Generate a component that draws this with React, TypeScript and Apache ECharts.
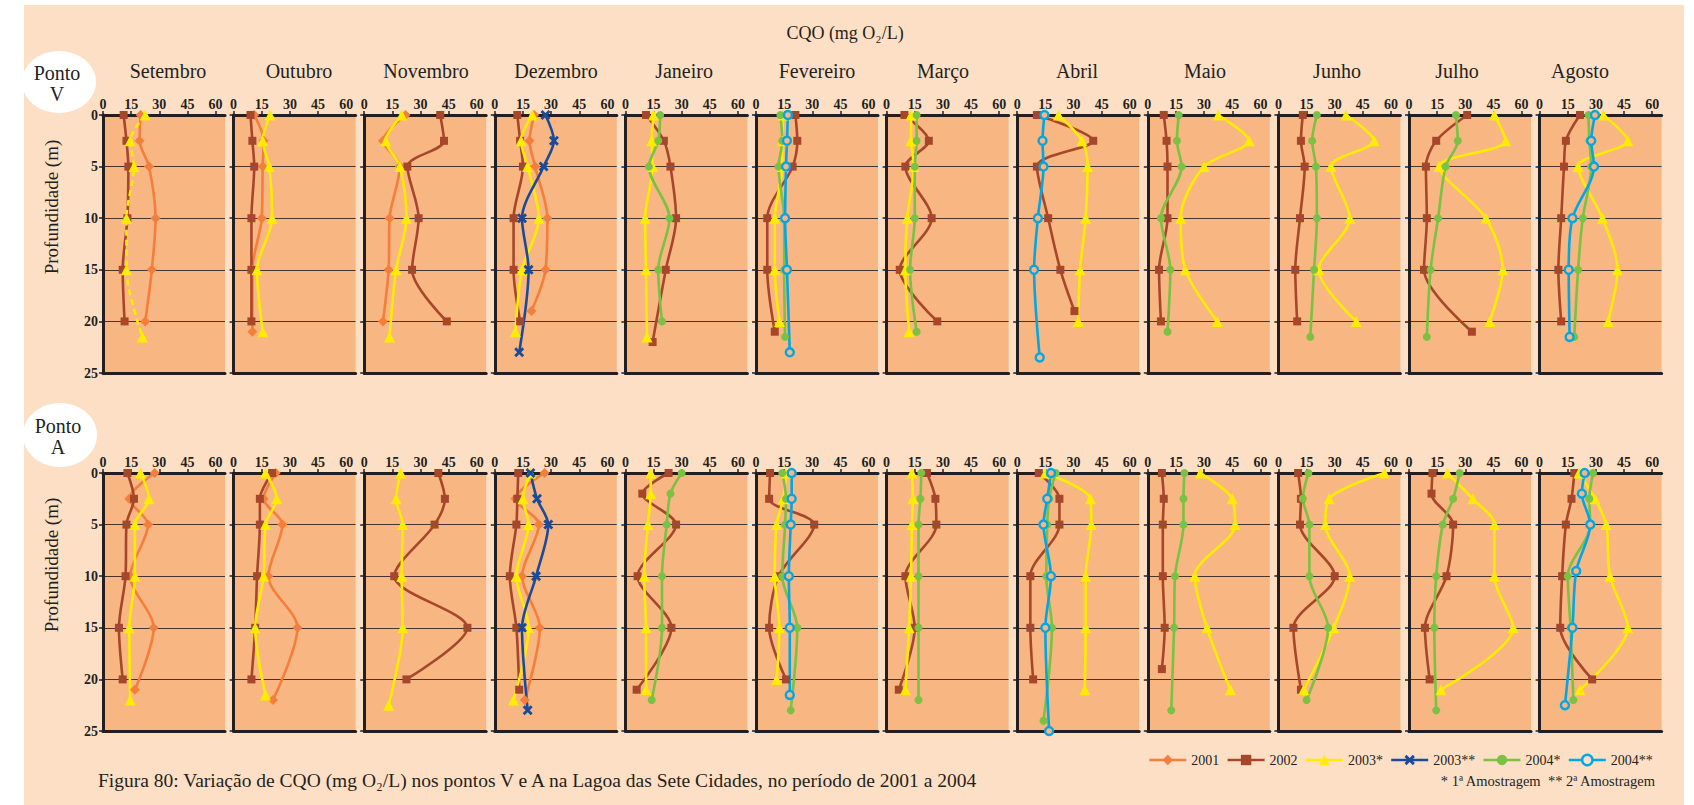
import React, { useEffect, useRef } from 'react';
import * as echarts from 'echarts';

type Pts = number[][]; // [CQO (mg O2/L), depth (m)]
type Panel = Record<string, Pts>;

const months = ['Setembro', 'Outubro', 'Novembro', 'Dezembro', 'Janeiro', 'Fevereiro', 'Março', 'Abril', 'Maio', 'Junho', 'Julho', 'Agosto'];
const yearKeys = ['2001', '2002', '2003*', '2003**', '2004*', '2004**'];
const xTicks = [0, 15, 30, 45, 60];
const pointNames = ['Ponto\nV', 'Ponto\nA'];

// ---------- Ponto V ----------
const V_SET: Panel = {
  '2001': [[20, 0], [19.5, 2.5], [24.5, 5], [28, 10], [26, 15], [22.5, 20]],
  '2002': [[11, 0], [12.5, 2.5], [13.5, 5], [13, 10], [10.5, 15], [11.5, 20]],
  '2003*': [[22.5, 0], [14.5, 2.5], [16.5, 5], [12.5, 10], [12.5, 15], [21, 21.5]],
};
const V_OUT: Panel = {
  '2001': [[11, 0], [16, 2.5], [15.5, 5], [15, 10], [10, 15], [10, 21]],
  '2002': [[9, 0], [10, 2.5], [11, 5], [9.5, 10], [9.5, 15], [9.5, 20]],
  '2003*': [[19.5, 0], [15.5, 2.5], [19, 5], [20.5, 10], [12.5, 15], [15.5, 21]],
};
const V_NOV: Panel = {
  '2001': [[22, 0], [10, 2.5], [19, 5], [13.5, 10], [13, 15], [10, 20]],
  '2002': [[40.5, 0], [42.5, 2.5], [23, 5], [29, 10], [25.5, 15], [44, 20]],
  '2003*': [[20, 0], [11.5, 2.5], [19, 5], [22.5, 10], [17, 15], [13.5, 21.5]],
};
const V_DEZ: Panel = {
  '2001': [[21, 0], [18.5, 2.5], [21.5, 5], [28, 10], [27, 15], [19.5, 19]],
  '2002': [[12, 0], [13.5, 2.5], [15, 5], [10, 10], [10, 15], [13.5, 20]],
  '2003*': [[20, 0], [14, 2.5], [17.5, 5], [23.5, 10], [14.5, 15], [11, 21]],
  '2003**': [[27, 0], [31.5, 2.5], [26, 5], [14.5, 10], [18, 15], [13, 23]],
};
const V_JAN: Panel = {
  '2002': [[11, 0], [20.5, 2.5], [24, 5], [27, 10], [21.5, 15], [14.5, 22]],
  '2003*': [[15, 0], [14, 2.5], [14.5, 5], [10.5, 10], [11, 15], [11.5, 21.5]],
  '2004*': [[18.5, 0], [17.5, 2.5], [12.5, 5], [23.5, 10], [17.5, 15], [19.5, 20]],
};
const V_FEV: Panel = {
  '2002': [[21, 0], [22, 2.5], [19.5, 5], [6, 10], [6, 15], [10, 21]],
  '2003*': [[14.5, 0], [14, 2.5], [14, 5], [10, 10], [10, 15], [12.5, 20]],
  '2004*': [[13, 0], [14, 2.5], [12, 5], [15, 10], [15, 15], [15.5, 21.5]],
  '2004**': [[17, 0], [16.5, 2.5], [16, 5], [15.5, 10], [16.5, 15], [18, 23]],
};
const V_MAR: Panel = {
  '2002': [[9.5, 0], [22.5, 2.5], [10, 5], [24, 10], [7, 15], [27, 20]],
  '2003*': [[13, 0], [13, 2.5], [14.5, 5], [11, 10], [10, 15], [12, 21]],
  '2004*': [[16, 0], [16, 2.5], [15, 5], [15, 10], [12.5, 15], [16, 21]],
};
const V_ABR: Panel = {
  '2002': [[10.5, 0], [40.5, 2.5], [10.5, 5], [16.5, 10], [23, 15], [30.5, 19]],
  '2003*': [[22, 0], [34.5, 2.5], [37.5, 5], [36.5, 10], [33.5, 15], [32.5, 20]],
  '2004**': [[14.5, 0], [13.5, 2.5], [14, 5], [11, 10], [9, 15], [12, 23.5]],
};
const V_MAI: Panel = {
  '2002': [[8.5, 0], [10, 2.5], [10.5, 5], [10.5, 10], [6, 15], [7, 20]],
  '2003*': [[37.5, 0], [54, 2.5], [30, 5], [17.5, 10], [20, 15], [37, 20]],
  '2004*': [[16.5, 0], [15.5, 2.5], [18, 5], [7, 10], [12, 15], [10.5, 21]],
};
const V_JUN: Panel = {
  '2002': [[13, 0], [12, 2.5], [14, 5], [11.5, 10], [9, 15], [10, 20]],
  '2003*': [[36, 0], [51, 2.5], [28, 5], [38, 10], [21.5, 15], [41.5, 20]],
  '2004*': [[20.5, 0], [18, 2.5], [20, 5], [20.5, 10], [19, 15], [17, 21.5]],
};
const V_JUL: Panel = {
  '2002': [[31, 0], [14.5, 2.5], [9, 5], [9.5, 10], [8, 15], [33.5, 21]],
  '2003*': [[45.5, 0], [51.5, 2.5], [16, 5], [41, 10], [50, 15], [43, 20]],
  '2004*': [[25, 0], [26, 2.5], [19.5, 5], [15.5, 10], [11.5, 15], [9.5, 21.5]],
};
const V_AGO: Panel = {
  '2002': [[21.5, 0], [14, 2.5], [13, 5], [11.5, 10], [10, 15], [11.5, 20]],
  '2003*': [[34, 0], [47, 2.5], [20.5, 5], [33.5, 10], [41.5, 15], [36.5, 20]],
  '2004*': [[26, 0], [26.5, 2.5], [27.5, 5], [23, 10], [20.5, 15], [18.5, 21.5]],
  '2004**': [[29.5, 0], [27.5, 2.5], [29, 5], [17.5, 10], [15.5, 15], [16, 21.5]],
};

// ---------- Ponto A ----------
const A_SET: Panel = {
  '2001': [[27.5, 0], [14, 2.5], [24, 5], [14.5, 10], [27, 15], [17, 21]],
  '2002': [[13, 0], [16.5, 2.5], [12.5, 5], [12, 10], [8.5, 15], [10.5, 20]],
  '2003*': [[20, 0], [24.5, 2.5], [17, 5], [17, 10], [14, 15], [14.5, 22]],
};
const A_OUT: Panel = {
  '2001': [[22.5, 0], [16, 2.5], [26, 5], [18.5, 10], [34, 15], [21, 22]],
  '2002': [[20.5, 0], [14, 2.5], [14, 5], [12.5, 10], [11.5, 15], [9.5, 20]],
  '2003*': [[17, 0], [23, 2.5], [17, 5], [16, 10], [11.5, 15], [17, 21.5]],
};
const A_NOV: Panel = {
  '2002': [[39.5, 0], [43, 2.5], [37.5, 5], [16, 10], [55, 15], [22.5, 20]],
  '2003*': [[19.5, 0], [17, 2.5], [20.5, 5], [20, 10], [20.5, 15], [13, 22.5]],
};
const A_DEZ: Panel = {
  '2001': [[26.5, 0], [11, 2.5], [23.5, 5], [14.5, 10], [24, 15], [16, 22]],
  '2002': [[12.5, 0], [12, 2.5], [11.5, 5], [8, 10], [11.5, 15], [13, 21]],
  '2003*': [[19, 0], [15, 2.5], [18, 5], [11.5, 10], [18, 15], [10, 22]],
  '2003**': [[19, 0], [22.5, 2.5], [28.5, 5], [22, 10], [14.5, 15], [17.5, 23]],
};
const A_JAN: Panel = {
  '2002': [[23, 0], [9, 2], [27, 5], [6.5, 10], [24.5, 15], [6, 21]],
  '2003*': [[13.5, 0], [13.5, 2], [12, 5], [10, 10], [11, 15], [11, 21]],
  '2004*': [[30, 0], [24, 2], [22, 5], [19.5, 10], [19.5, 15], [14, 22]],
};
const A_FEV: Panel = {
  '2002': [[7.5, 0], [7, 2.5], [31, 5], [12, 10], [7, 15], [16, 20]],
  '2003*': [[16, 0], [14.5, 2.5], [11, 5], [10, 10], [12.5, 15], [11, 20]],
  '2004*': [[14, 0], [16, 2.5], [15.5, 5], [14, 10], [22, 15], [18.5, 23]],
  '2004**': [[19, 0], [19, 2.5], [18.5, 5], [17.5, 10], [18, 15], [18, 21.5]],
};
const A_MAR: Panel = {
  '2002': [[21.5, 0], [26, 2.5], [26.5, 5], [10, 10], [15, 15], [6.5, 21]],
  '2003*': [[13.5, 0], [14, 2.5], [13.5, 5], [13, 10], [12, 15], [10, 21]],
  '2004*': [[18.5, 0], [18, 2.5], [17, 5], [17, 10], [17, 15], [17, 22]],
};
const A_ABR: Panel = {
  '2002': [[11.5, 0], [22.5, 2.5], [22.5, 5], [7, 10], [7, 15], [8.5, 20]],
  '2003*': [[15, 0], [39, 2.5], [39.5, 5], [36.5, 10], [36.5, 15], [36, 21]],
  '2004*': [[20.5, 0], [17, 2.5], [16, 5], [15.5, 10], [18.5, 15], [14, 24]],
  '2004**': [[18, 0], [16, 2.5], [14, 5], [18, 10], [15, 15], [17, 25]],
};
const A_MAI: Panel = {
  '2002': [[7.5, 0], [8.5, 2.5], [8, 5], [8, 10], [9, 15], [7.5, 19]],
  '2003*': [[28, 0], [45, 2.5], [46.5, 5], [25, 10], [31.5, 15], [44, 21]],
  '2004*': [[19.5, 0], [19, 2.5], [19, 5], [14.5, 10], [14, 15], [12.5, 23]],
};
const A_JUN: Panel = {
  '2002': [[10.5, 0], [12, 2.5], [11.5, 5], [30, 10], [8, 15], [12, 21]],
  '2003*': [[56.5, 0], [27, 2.5], [25, 5], [38, 10], [29.5, 15], [13.5, 21]],
  '2004*': [[16, 0], [13, 2.5], [16.5, 5], [16.5, 10], [26.5, 15], [15, 22]],
};
const A_JUL: Panel = {
  '2002': [[12.5, 0], [12, 2], [23.5, 5], [20, 10], [8.5, 15], [11, 20]],
  '2003*': [[20.5, 0], [34, 2.5], [45.5, 5], [45.5, 10], [55.5, 15], [17, 21]],
  '2004*': [[27, 0], [23.5, 2.5], [18, 5], [14.5, 10], [13.5, 15], [14.5, 23]],
};
const A_AGO: Panel = {
  '2002': [[18.5, 0], [17, 2.5], [14, 5], [12, 10], [11, 15], [28, 20]],
  '2003*': [[21, 0], [29.5, 2.5], [35.5, 5], [37.5, 10], [47, 15], [21.5, 21]],
  '2004*': [[28.5, 0], [26.5, 2.5], [27, 5], [15, 10], [16.5, 15], [18, 22]],
  '2004**': [[24, 0], [22.5, 2], [27, 5], [19.5, 9.5], [17.5, 15], [13.5, 22.5]],
};

const pontoV = [V_SET, V_OUT, V_NOV, V_DEZ, V_JAN, V_FEV, V_MAR, V_ABR, V_MAI, V_JUN, V_JUL, V_AGO];
const pontoA = [A_SET, A_OUT, A_NOV, A_DEZ, A_JAN, A_FEV, A_MAR, A_ABR, A_MAI, A_JUN, A_JUL, A_AGO];
const dashedSeries = ['0-0-2003*']; // Ponto V, Setembro, 2003*

// ---------- styling / layout ----------
const INK = '#231F20';
const PANEL_BG = '#F8B682';
const PAGE_BG = '#FDDFC5';
const FONT = '"Liberation Serif", "DejaVu Serif", serif';
const CROSS = 'path://M0,2 L2,0 L5,3 L8,0 L10,2 L7,5 L10,8 L8,10 L5,7 L2,10 L0,8 L3,5 Z';

const yearStyle: Record<string, { color: string; symbol: string; size: number; hollow?: boolean }> = {
  '2001': { color: '#F47E3B', symbol: 'diamond', size: 10 },
  '2002': { color: '#A6472B', symbol: 'rect', size: 8 },
  '2003*': { color: '#FFEC00', symbol: 'triangle', size: 11 },
  '2003**': { color: '#1A4B9B', symbol: CROSS, size: 10 },
  '2004*': { color: '#7BC143', symbol: 'circle', size: 8 },
  '2004**': { color: '#00A7E5', symbol: 'circle', size: 8, hollow: true },
};

const PANEL_LEFT0 = 103;
const PANEL_PITCH = 130.6;
const PANEL_W = 122;
const PANEL_H = 258;
const ROW_TOPS = [115, 473];
const TITLE_X = [168, 299, 426, 556, 684, 817, 943, 1077, 1205, 1337, 1457, 1580];

function buildOption() {
  const grids: any[] = [];
  const xAxes: any[] = [];
  const yAxes: any[] = [];
  const series: any[] = [];

  [pontoV, pontoA].forEach((row, r) => {
    row.forEach((panel, m) => {
      const gi = grids.length;
      grids.push({
        left: PANEL_LEFT0 + m * PANEL_PITCH,
        top: ROW_TOPS[r],
        width: PANEL_W,
        height: PANEL_H,
        show: true,
        backgroundColor: PANEL_BG,
        borderWidth: 0,
      });
      const topAxis = xAxes.length;
      xAxes.push({
        gridIndex: gi,
        type: 'value',
        position: 'top',
        min: 0,
        max: 65,
        axisLine: { show: true, onZero: false, lineStyle: { color: INK, width: 3 } },
        axisTick: { show: true, length: 4, customValues: xTicks, lineStyle: { color: INK, width: 1.5 } },
        axisLabel: {
          show: true, customValues: xTicks, margin: 4,
          fontFamily: FONT, fontSize: 14, fontWeight: 'bold', color: INK,
        },
        splitLine: { show: false },
      });
      xAxes.push({
        gridIndex: gi,
        type: 'value',
        position: 'bottom',
        min: 0,
        max: 65,
        axisLine: { show: true, onZero: false, lineStyle: { color: INK, width: 3 } },
        axisTick: { show: false },
        axisLabel: { show: false },
        splitLine: { show: false },
      });
      yAxes.push({
        gridIndex: gi,
        type: 'value',
        inverse: true,
        min: 0,
        max: 25,
        interval: 5,
        axisLine: { show: true, onZero: false, lineStyle: { color: INK, width: 3 } },
        axisTick: { show: true, length: 4, lineStyle: { color: INK, width: 1.5 } },
        axisLabel: {
          show: m === 0, margin: 5,
          fontFamily: FONT, fontSize: 14, fontWeight: 'bold', color: INK,
        },
        splitLine: { show: true, lineStyle: { color: '#45352E', width: 1 } },
      });

      yearKeys.forEach((yk) => {
        const pts = panel[yk];
        if (!pts) return;
        const st = yearStyle[yk];
        const dashed = dashedSeries.includes(`${r}-${m}-${yk}`);
        series.push({
          type: 'line',
          name: yk,
          xAxisIndex: topAxis,
          yAxisIndex: gi,
          data: pts,
          smooth: 0.3,
          clip: false,
          symbol: st.symbol,
          symbolSize: st.size,
          showAllSymbol: true,
          lineStyle: { color: st.color, width: 2.6, type: dashed ? [6, 4] : 'solid' },
          itemStyle: st.hollow
            ? { color: PANEL_BG, borderColor: st.color, borderWidth: 2.4 }
            : { color: st.color, borderWidth: 0 },
          emphasis: { disabled: true },
        });
      });
    });
  });

  const txt = (text: string, x: number, y: number, fontSize: number, extra: any = {}) => ({
    type: 'text',
    x,
    y,
    ...extra,
    style: {
      text,
      fill: INK,
      fontFamily: FONT,
      fontSize,
      align: extra.align || 'center',
      verticalAlign: 'middle',
      lineHeight: extra.lineHeight,
    },
  });

  const elements: any[] = [
    { type: 'ellipse', shape: { cx: 59, cy: 82, rx: 37, ry: 31 }, style: { fill: '#fff' } },
    { type: 'ellipse', shape: { cx: 60, cy: 435, rx: 37, ry: 32 }, style: { fill: '#fff' } },
    txt(pointNames[0], 57, 83, 20, { lineHeight: 21 }),
    txt(pointNames[1], 58, 436, 20, { lineHeight: 21 }),
    txt('CQO (mg O\u2082/L)', 845, 33, 18),
    txt('Profundidade (m)', 51, 207, 19, { rotation: Math.PI / 2 }),
    txt('Profundidade (m)', 51, 565, 19, { rotation: Math.PI / 2 }),
    txt('Figura 80: Variação de CQO (mg O\u2082/L) nos pontos V e A na Lagoa das Sete Cidades, no período de 2001 a 2004', 98, 780, 19.5, { align: 'left' }),
    txt('* 1ª Amostragem  ** 2ª Amostragem', 1655, 781, 14.5, { align: 'right' }),
  ];
  months.forEach((mName, i) => elements.push(txt(mName, TITLE_X[i], 71, 20)));

  const legendData = yearKeys.map((yk) => {
    const st = yearStyle[yk];
    return {
      name: yk,
      lineStyle: { color: st.color, width: 2.6, type: 'solid' },
      itemStyle: st.hollow
        ? { color: PAGE_BG, borderColor: st.color, borderWidth: 2.4 }
        : { color: st.color, borderWidth: 0 },
    };
  });

  return {
    animation: false,
    grid: grids,
    xAxis: xAxes,
    yAxis: yAxes,
    series,
    legend: {
      data: legendData,
      left: 1143,
      top: 748,
      itemWidth: 37,
      itemHeight: 13,
      itemGap: 7,
      selectedMode: false,
      textStyle: { fontFamily: FONT, fontSize: 14, color: INK },
    },
    graphic: { elements },
  };
}

export default function App() {
  const ref = useRef<HTMLDivElement>(null);
  useEffect(() => {
    if (!ref.current) return;
    const chart = echarts.init(ref.current, undefined, { renderer: 'svg' });
    chart.setOption(buildOption() as any);
    return () => chart.dispose();
  }, []);
  return (
    <div style={{ position: 'fixed', left: 0, top: 0, width: 1694, height: 805, background: '#fff' }}>
      <div style={{ position: 'absolute', left: 24, top: 5, width: 1660, height: 800, background: PAGE_BG }} />
      <div ref={ref} style={{ position: 'absolute', left: 0, top: 0, width: 1694, height: 805 }} />
    </div>
  );
}
